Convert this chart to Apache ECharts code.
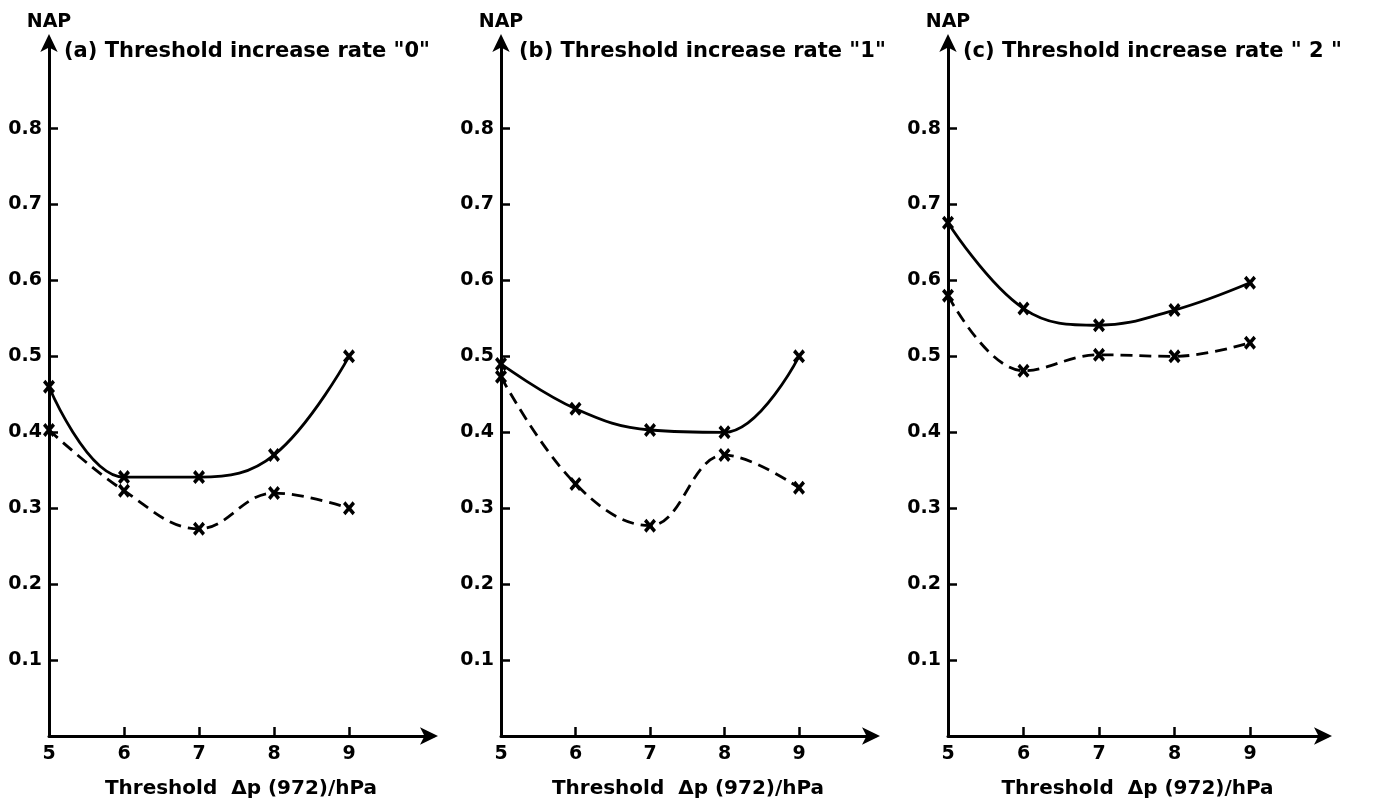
<!DOCTYPE html>
<html>
<head>
<meta charset="utf-8">
<script src="https://cdn.jsdelivr.net/npm/echarts@6/dist/echarts.min.js"></script>
<style>
html,body{margin:0;padding:0;background:#fff;}
#chart{width:1387px;height:805px;}
</style>
</head>
<body>
<div id="chart"></div>
<script>
// ---- data ----
const xTicks = [5, 6, 7, 8, 9];
const yTicks = [0.1, 0.2, 0.3, 0.4, 0.5, 0.6, 0.7, 0.8];
const panelTitles = ['(a) Threshold increase rate "0"', '(b) Threshold increase rate "1"', '(c) Threshold increase rate " 2 "'];
const yAxisName = 'NAP';
const xAxisName = 'Threshold  \u0394p (972)/hPa';

const solidA  = [0.460, 0.341, 0.341, 0.370, 0.500];
const dashedA = [0.403, 0.323, 0.273, 0.320, 0.300];
const solidB  = [0.490, 0.431, 0.403, 0.400, 0.500];
const dashedB = [0.473, 0.332, 0.277, 0.370, 0.327];
const solidC  = [0.676, 0.563, 0.541, 0.561, 0.597];
const dashedC = [0.580, 0.481, 0.502, 0.500, 0.518];

const solidSets = [solidA, solidB, solidC];
const dashedSets = [dashedA, dashedB, dashedC];

// ---- layout ----
const grids = [
  {left: 49,  top: 39, width: 384, height: 697},
  {left: 501, top: 39, width: 374, height: 697},
  {left: 948, top: 39, width: 379, height: 697}
];
const xMax = [10.12, 10.02, 10.02];
const yMax = 0.918;
const titleLeft = [59, 514, 958];

const font = '"DejaVu Sans", "Liberation Sans", sans-serif';
const crossPath = 'path://M0,2 L2,0 L5,3 L8,0 L10,2 L7,5 L10,8 L8,10 L5,7 L2,10 L0,8 L3,5 Z';

const option = {
  backgroundColor: '#fff',
  animation: false,
  title: panelTitles.map((t, i) => ({
    text: t, left: titleLeft[i], top: 36,
    textStyle: {fontFamily: font, fontSize: 21, fontWeight: 'bold', color: '#000'}
  })),
  grid: grids,
  xAxis: grids.map((g, i) => ({
    type: 'value', gridIndex: i, min: 5, max: xMax[i], interval: 1,
    name: xAxisName, nameLocation: 'middle', nameGap: 43,
    nameTextStyle: {fontFamily: font, fontSize: 20, fontWeight: 'bold', color: '#000'},
    splitLine: {show: false},
    axisLine: {show: true, lineStyle: {color: '#000', width: 3}, symbol: ['none', 'arrow'], symbolSize: [13, 18], symbolOffset: [0, 5]},
    axisTick: {show: true, inside: true, length: 9, lineStyle: {color: '#000', width: 2.5}, customValues: xTicks},
    axisLabel: {show: true, margin: 9, fontFamily: font, fontSize: 19, fontWeight: 'bold', color: '#000', customValues: xTicks}
  })),
  yAxis: grids.map((g, i) => ({
    type: 'value', gridIndex: i, min: 0, max: yMax, interval: 0.1,
    name: yAxisName, nameLocation: 'end', nameGap: 7,
    nameTextStyle: {fontFamily: font, fontSize: 19, fontWeight: 'bold', color: '#000', align: 'center'},
    splitLine: {show: false},
    axisLine: {show: true, lineStyle: {color: '#000', width: 3}, symbol: ['none', 'arrow'], symbolSize: [13, 18], symbolOffset: [0, 5]},
    axisTick: {show: true, inside: true, length: 9, lineStyle: {color: '#000', width: 2.5}, customValues: yTicks},
    axisLabel: {show: true, margin: 7, fontFamily: font, fontSize: 19, fontWeight: 'bold', color: '#000', customValues: yTicks,
      formatter: v => v.toFixed(1)}
  })),
  series: []
};

for (let i = 0; i < 3; i++) {
  option.series.push({
    type: 'line', xAxisIndex: i, yAxisIndex: i, smooth: 0.4, clip: false,
    data: xTicks.map((x, k) => [x, solidSets[i][k]]),
    symbol: crossPath, symbolSize: [12, 14],
    itemStyle: {color: '#000'},
    lineStyle: {color: '#000', width: 2.8, type: 'solid'}
  });
  option.series.push({
    type: 'line', xAxisIndex: i, yAxisIndex: i, smooth: 0.4, clip: false,
    data: xTicks.map((x, k) => [x, dashedSets[i][k]]),
    symbol: crossPath, symbolSize: [12, 14],
    itemStyle: {color: '#000'},
    lineStyle: {color: '#000', width: 2.8, type: [12, 7]}
  });
}

const chart = echarts.init(document.getElementById('chart'), null, {renderer: 'canvas'});
chart.setOption(option);
</script>
</body>
</html>
